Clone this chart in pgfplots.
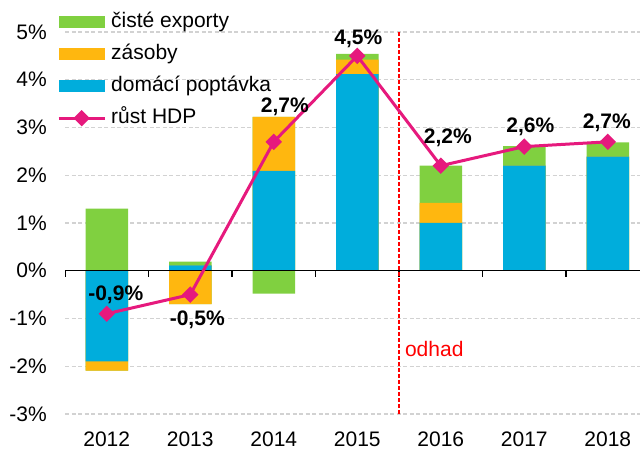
\documentclass[border=0pt]{standalone}
\usepackage{pgfplots}
\pgfplotsset{compat=1.18}
\usepackage{pgfplotstable}
\usepackage{fontspec}
\setmainfont{Liberation Sans}
\definecolor{cgreen}{RGB}{128,208,64}
\definecolor{corange}{RGB}{255,183,15}
\definecolor{cblue}{RGB}{0,173,220}
\definecolor{cpink}{RGB}{230,25,125}
\definecolor{cgrid}{RGB}{210,210,210}

% components: b = domaci poptavka, o = zasoby, g = ciste exporty
\pgfplotstableread{
x b o g
0 -1.90 -0.19 1.30
1 0.11 -0.70 0.08
2 2.09 1.13 -0.48
3 4.12 0.30 0.12
4 1.00 0.42 0.78
5 2.20 0.00 0.41
6 2.39 0.00 0.30
}\comp

\pgfplotstableread{
x y lab dx dy
0 -0.9 {-0,9\%} 9 19
1 -0.5 {-0,5\%} 7 -25
2 2.7 {2,7\%} 11 35
3 4.5 {4,5\%} 1 17
4 2.2 {2,2\%} 7 28
5 2.6 {2,6\%} 6 20
6 2.7 {2,7\%} -1 19
}\gdp

\begin{document}
\begin{tikzpicture}[font=\fontsize{21bp}{25bp}\selectfont]
\begin{axis}[
  scale only axis, width=575bp, height=382bp,
  xmin=-0.5, xmax=6.386, ymin=-3, ymax=5,
  axis line style={draw=none},
  xtick={0,...,6}, xticklabels={2012,2013,2014,2015,2016,2017,2018},
  ytick={-3,...,5}, yticklabels={-3\%,-2\%,-1\%,0\%,1\%,2\%,3\%,4\%,5\%},
  major tick length=0pt, tick style={draw=none},
  xticklabel style={anchor=north, inner sep=0pt, yshift=-17.5bp},
  yticklabel style={anchor=east, inner sep=0pt, xshift=-18bp},
  ymajorgrids,
  grid style={cgrid, line width=1.2bp, dash pattern=on 4bp off 2.5bp},
  legend style={at={(-0.0139,1.051)}, anchor=north west, draw=none, fill=none,
    inner sep=0pt, row sep=13bp,
    nodes={inner sep=0pt, text height=15bp, text depth=4bp},
    /tikz/every odd column/.append style={column sep=5bp}},
  legend cell align=left,
]
\addplot[ybar, bar width=42.5bp, bar shift=0pt, fill=cgreen, draw=none,
  legend image code/.code={\fill[cgreen] (0bp,-6bp) rectangle (46bp,6bp);}]
  table[x=x, y expr={max(\thisrow{b},0)+max(\thisrow{o},0)+max(\thisrow{g},0)}] \comp;
\addlegendentry{čisté exporty}
\addplot[ybar, bar width=42.5bp, bar shift=0pt, fill=corange, draw=none,
  legend image code/.code={\fill[corange] (0bp,-6bp) rectangle (46bp,6bp);}]
  table[x=x, y expr={max(\thisrow{b},0)+max(\thisrow{o},0)}] \comp;
\addlegendentry{zásoby}
\addplot[ybar, bar width=42.5bp, bar shift=0pt, fill=cblue, draw=none,
  legend image code/.code={\fill[cblue] (0bp,-6bp) rectangle (46bp,6bp);}]
  table[x=x, y expr={max(\thisrow{b},0)}] \comp;
\addlegendentry{domácí poptávka}
\addplot[ybar, bar width=42.5bp, bar shift=0pt, fill=cgreen, draw=none, forget plot]
  table[x=x, y expr={min(\thisrow{b},0)+min(\thisrow{o},0)+min(\thisrow{g},0)}] \comp;
\addplot[ybar, bar width=42.5bp, bar shift=0pt, fill=corange, draw=none, forget plot]
  table[x=x, y expr={min(\thisrow{b},0)+min(\thisrow{o},0)}] \comp;
\addplot[ybar, bar width=42.5bp, bar shift=0pt, fill=cblue, draw=none, forget plot]
  table[x=x, y expr={min(\thisrow{b},0)}] \comp;
% zero line and ticks
\draw[black, line width=1.3bp] (axis cs:-0.5,0) -- (axis cs:6.386,0);
\pgfplotsinvokeforeach{-0.5,0.5,1.5,2.5,3.5,4.5,5.5}{
  \draw[black, line width=1.3bp] (axis cs:#1,0) -- ++(0bp,-6bp);
}
% estimate divider
\addplot[red, line width=1.3bp, dash pattern=on 4bp off 2bp, forget plot]
  coordinates {(3.5,-3) (3.5,5)};
\node[red, anchor=west, inner sep=0pt] at (axis cs:3.57,-1.63) {odhad};
% GDP growth
\addplot[cpink, line width=3bp, mark=square*, mark size=4.3bp,
  mark options={rotate=45, solid},
  nodes near coords, point meta=explicit symbolic,
  visualization depends on={\thisrow{dx} \as \dx},
  visualization depends on={\thisrow{dy} \as \dy},
  every node near coord/.append style={black, anchor=center, inner sep=0pt,
    font=\fontsize{21bp}{25bp}\selectfont\bfseries,
    xshift={\dx*1bp}, yshift={\dy*1bp}},
  legend image code/.code={\draw[cpink, line width=3bp, mark=square*, mark size=4.3bp, mark options={rotate=45, solid}, mark repeat=2, mark phase=2] plot coordinates {(0bp,0bp) (23bp,0bp) (46bp,0bp)};}]
  table[x=x, y=y, meta=lab] \gdp;
\addlegendentry{růst HDP}
\end{axis}
\pgfresetboundingbox
\path[use as bounding box] ([xshift=-65bp,yshift=-36bp]current axis.south west) rectangle ([yshift=32bp]current axis.north east);
\end{tikzpicture}
\end{document}
